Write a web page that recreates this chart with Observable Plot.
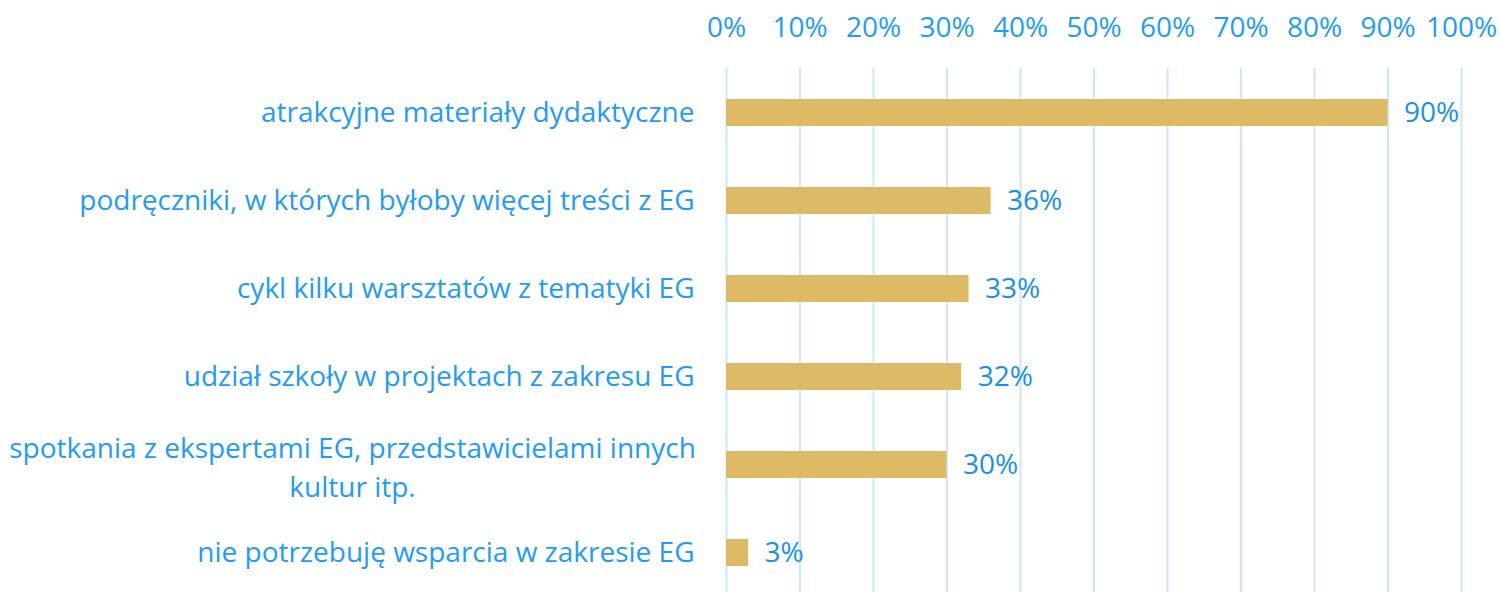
<!DOCTYPE html>
<html>
<head>
<meta charset="utf-8">
<script src="https://cdn.jsdelivr.net/npm/d3@7"></script>
<script src="https://cdn.jsdelivr.net/npm/@observablehq/plot@0.6"></script>
<style>
  html, body { margin: 0; padding: 0; background: #ffffff; }
  #chart svg { display: block; }
</style>
</head>
<body>
<div id="chart"></div>
<script>
const categories = [
  "atrakcyjne materiały dydaktyczne",
  "podręczniki, w których byłoby więcej treści z EG",
  "cykl kilku warsztatów z tematyki EG",
  "udział szkoły w projektach z zakresu EG",
  "spotkania z ekspertami EG, przedstawicielami innych\nkultur itp.",
  "nie potrzebuję wsparcia w zakresie EG"
];
const values = [90, 36, 33, 32, 30, 3];
const valueLabels = ["90%", "36%", "33%", "32%", "30%", "3%"];
const xTicks = [0, 10, 20, 30, 40, 50, 60, 70, 80, 90, 100];

const data = categories.map((c, i) => ({ category: c, value: values[i], label: valueLabels[i] }));
const wrapped = data.filter(d => d.category.includes("\n"));

const FONT = "'Open Sans', Lato, sans-serif";
const FS = 28;
const BLUE = "#1E9BFF";

const chart = Plot.plot({
  width: 1500,
  height: 592,
  marginLeft: 726,
  marginRight: 39,
  marginTop: 73,
  marginBottom: 0,
  style: { fontFamily: FONT, fontSize: FS + "px", color: BLUE, background: "#ffffff" },
  x: { domain: [0, 100], axis: null },
  y: { domain: categories, paddingInner: 0.693, paddingOuter: 0.295, axis: null },
  marks: [
    Plot.ruleX(xTicks, { stroke: "#cde6fc", strokeWidth: 2, insetTop: -5 }),
    Plot.barX(data, { x: "value", y: "category", fill: "#DDBB66" }),
    Plot.axisX({
      anchor: "top",
      ticks: xTicks,
      tickSize: 0,
      tickPadding: 37,
      tickFormat: d => d + "%",
      fill: BLUE,
      fontSize: FS,
      label: null
    }),
    Plot.axisY({
      anchor: "left",
      tickSize: 0,
      tickPadding: 32,
      tickFormat: d => d.includes("\n") ? "" : d,
      fill: BLUE,
      fontSize: FS,
      label: null
    }),
    Plot.text(wrapped, {
      y: "category",
      text: "category",
      frameAnchor: "left",
      textAnchor: "middle",
      dx: -374,
      lineHeight: 1.4,
      fill: BLUE,
      fontSize: FS
    }),
    Plot.text(data, {
      x: "value",
      y: "category",
      text: "label",
      textAnchor: "start",
      dx: 16,
      fill: "#1890F0",
      fontSize: FS
    })
  ]
});
document.getElementById("chart").appendChild(chart);
</script>
</body>
</html>
